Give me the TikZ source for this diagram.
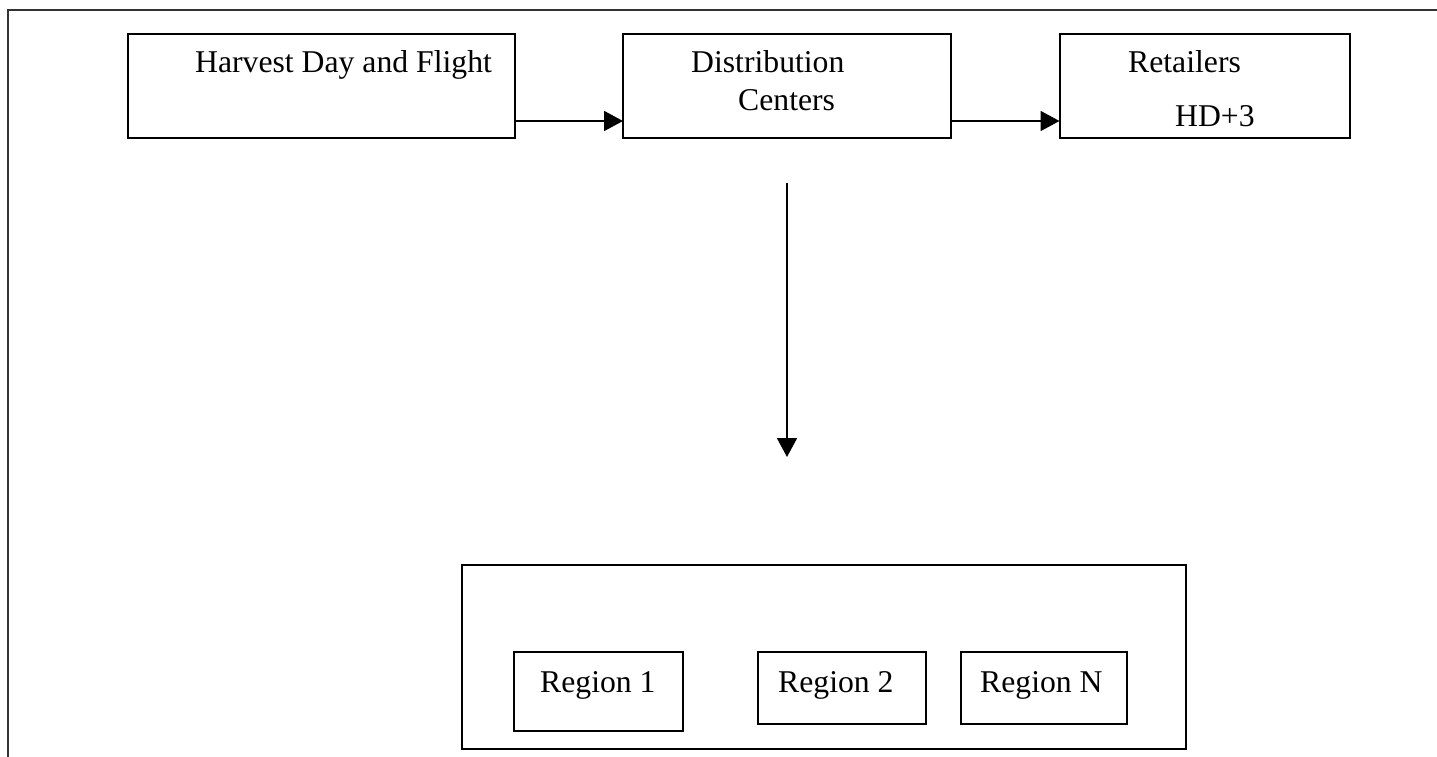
\documentclass[tikz,border=0pt]{standalone}
\usepackage{fontspec}
\setmainfont{Liberation Serif}
\usetikzlibrary{arrows.meta}
\begin{document}
\begin{tikzpicture}[x=1pt, y=-1pt,
        box/.style={draw, line width=2pt, inner sep=0pt, outer sep=0pt},
        lbl/.style={inner sep=0pt, anchor=base west, font=\fontsize{31.7}{38}\selectfont},
        flow/.style={line width=1.8pt, -{Triangle[length=19pt, width=20pt]}}]
            \useasboundingbox (0, 0) rectangle (1437, 757);
            \draw[line width=2.6pt, black!80] (8, 757) -- (8, 10) -- (1437, 10);
            \node[box, minimum width=387pt, minimum height=104pt] (hd) at (321.5, 86.5) {};
            \node[box, minimum width=328pt, minimum height=104pt] (dc) at (787, 86.5) {};
            \node[box, minimum width=290pt, minimum height=104pt] (rt) at (1204.5, 86.5) {};
            \node[lbl] (hdtext) at (195, 73) {Harvest Day and Flight};
            \node[lbl] (dctext) at (691, 73) {Distribution};
            \node[lbl] (dctext2) at (738, 111) {Centers};
            \node[lbl] (rttext) at (1128, 73) {Retailers};
            \node[lbl] (rttext2) at (1175, 127) {HD+3};
            \draw[flow] ([yshift=-34.5pt]hd.east) -- ([yshift=-34.5pt]dc.west);
            \draw[flow] ([yshift=-34.5pt]dc.east) -- ([yshift=-34.5pt]rt.west);
            \coordinate (down) at (787, 183);
            \coordinate (tip) at (787, 457);
            \draw[flow] (down) -- (tip);
            \node[box, minimum width=724pt, minimum height=184pt] (rg) at (824, 657) {};
            \node[box, minimum width=169pt, minimum height=79pt] (r1) at (598.5, 691.5) {};
            \node[box, minimum width=168pt, minimum height=72pt] (r2) at (842, 688) {};
            \node[box, minimum width=166pt, minimum height=72pt] (rn) at (1044, 688) {};
            \node[lbl] (r1text) at (540, 692) {Region 1};
            \node[lbl] (r2text) at (778, 692) {Region 2};
            \node[lbl] (rntext) at (980, 692) {Region N};
\end{tikzpicture}
\end{document}
